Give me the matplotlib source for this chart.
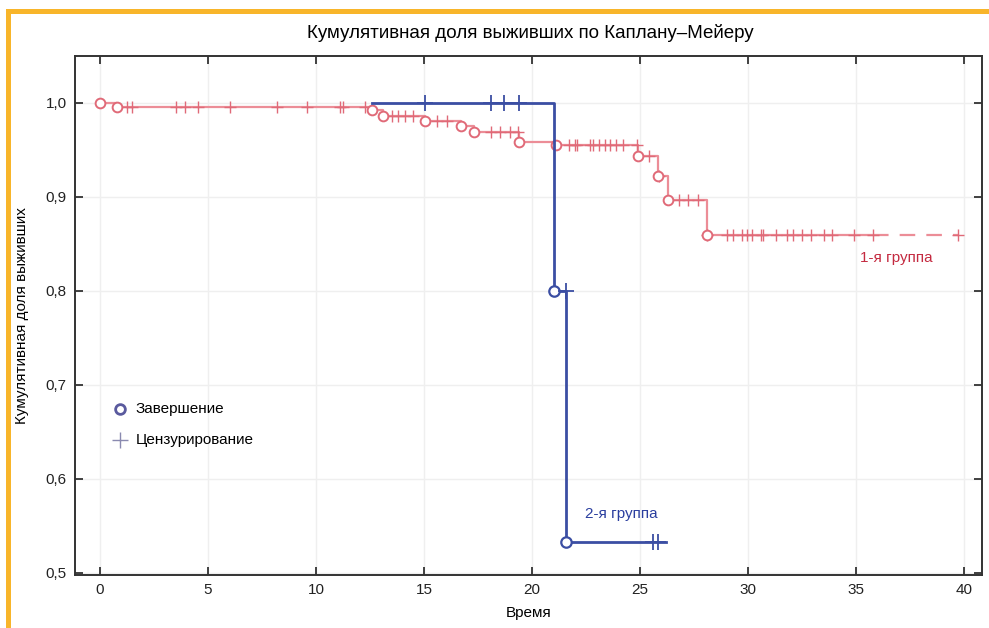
import numpy as np
import matplotlib
matplotlib.use("Agg")
import matplotlib.pyplot as plt
from matplotlib.patches import Rectangle

plt.rcParams['font.family'] = ['Liberation Sans Narrow', 'DejaVu Sans Condensed', 'Liberation Sans', 'DejaVu Sans']

# ---------------- data ----------------
g1_event_t = [0.0, 0.8, 12.6, 13.1, 15.05, 16.7, 17.3, 19.4, 21.1, 24.9, 25.85, 26.3, 28.1]
g1_event_s = [1.0, 0.995, 0.992, 0.986, 0.981, 0.975, 0.969, 0.958, 0.955, 0.943, 0.922, 0.897, 0.859]
g1_cens_t = [1.25, 1.48, 3.52, 3.94, 4.54, 6.02, 8.19, 9.58, 11.1, 11.25, 12.27,
             13.5, 13.8, 14.1, 14.5, 15.6, 16.06, 18.1, 18.5, 19.0, 19.35,
             21.7, 22.0, 22.1, 22.7, 22.8, 23.1, 23.4, 23.6, 23.9, 24.2, 24.85,
             25.4, 25.9, 26.8, 27.2, 27.7, 28.1,
             29.03, 29.3, 29.7, 29.95, 30.2, 30.6, 30.7, 31.3, 31.8, 32.1, 32.5,
             32.9, 33.5, 33.9, 34.9, 35.8, 39.7]
g1_dash_from = 35.8

g2_start_t = 12.6
g2_event_t = [21.0, 21.55]
g2_event_s = [0.8, 0.533]
g2_cens_t = [15.05, 18.1, 18.7, 19.4, 21.55, 25.6, 25.85]

xticks = [0, 5, 10, 15, 20, 25, 30, 35, 40]
yticks = [0.5, 0.6, 0.7, 0.8, 0.9, 1.0]
ytick_labels = ['0,5', '0,6', '0,7', '0,8', '0,9', '1,0']

title = 'Кумулятивная доля выживших по Каплану–Мейеру'
xlabel = 'Время'
ylabel = 'Кумулятивная доля выживших'
legend_labels = ['Завершение', 'Цензурирование']
group_labels = ['1-я группа', '2-я группа']

# ---------------- style ----------------
RED = '#ec8d97'
RED_M = '#e06a78'
RED_TXT = '#c42a40'
BLUE = '#3b4ea3'
BLUE_TXT = '#2b3f9f'
ORANGE = '#f8b52a'


def surv_at(t, et, es):
    idx = np.searchsorted(np.asarray(et), t, side='right') - 1
    return np.asarray(es)[np.clip(idx, 0, None)]


fig = plt.figure(figsize=(9.89, 6.28), dpi=100)
ax = fig.add_axes([75 / 989, 1 - 575 / 628, 907 / 989, 519 / 628])

# grid
for x in xticks:
    ax.axvline(x, color='#efefef', lw=1.0, zorder=0)
for y in yticks:
    ax.axhline(y, color='#efefef', lw=1.0, zorder=0)

# ---- group 1 ----
t1_end = max(g1_cens_t)
tt = np.array(list(g1_event_t) + [t1_end])
ss = np.array(list(g1_event_s) + [g1_event_s[-1]])
mask = tt <= g1_dash_from
ts = np.append(tt[mask], g1_dash_from)
ssol = np.append(ss[mask], ss[mask][-1])
ax.step(ts, ssol, where='post', color=RED, lw=1.6, zorder=3)
ax.plot([g1_dash_from, t1_end], [g1_event_s[-1]] * 2, color=RED, lw=1.6,
        dashes=(7, 5), zorder=3)
ax.plot(g1_event_t, g1_event_s, 'o', ms=7, mfc='white', mec=RED_M, mew=1.4, zorder=5)
ax.plot(g1_cens_t, surv_at(g1_cens_t, g1_event_t, g1_event_s), '+', ms=9,
        mew=1.0, color=RED_M, zorder=4)

# ---- group 2 ----
t2 = [g2_start_t] + list(g2_event_t) + [max(g2_cens_t) + 0.35]
s2 = [1.0] + list(g2_event_s) + [g2_event_s[-1]]
ax.step(t2, s2, where='post', color=BLUE, lw=2.0, zorder=6)
ax.plot(g2_event_t, g2_event_s, 'o', ms=7.5, mfc='white', mec=BLUE, mew=1.6, zorder=7)
ev2_t = [g2_start_t] + list(g2_event_t)
ev2_s = [1.0] + list(g2_event_s)
c2s = surv_at(np.array(g2_cens_t) - 1e-6, ev2_t, ev2_s)
ax.plot(g2_cens_t, c2s, '+', ms=11, mew=1.3, color=BLUE, zorder=7)

# group labels
ax.text(35.2, 0.835, group_labels[0], color=RED_TXT, fontsize=11, va='center', ha='left')
ax.text(22.45, 0.563, group_labels[1], color=BLUE_TXT, fontsize=11, va='center', ha='left')

# legend (manual, axes coords)
lx = (120 - 75) / 907
ax.plot([lx], [1 - (409 - 56) / 519], 'o', ms=7, mfc='white', mec='#5a5a9e', mew=2.0,
        transform=ax.transAxes, clip_on=False)
ax.plot([lx], [1 - (440 - 56) / 519], '+', ms=11, mew=1.0, color='#8a8ab0',
        transform=ax.transAxes, clip_on=False)
ax.text((136 - 75) / 907, 1 - (409 - 56) / 519, legend_labels[0], fontsize=11,
        va='center', ha='left', transform=ax.transAxes)
ax.text((136 - 75) / 907, 1 - (440 - 56) / 519, legend_labels[1], fontsize=11,
        va='center', ha='left', transform=ax.transAxes)

# axes
ax.set_xlim(-1.157, 40.83)
ax.set_ylim(0.4977, 1.0497)
ax.set_xticks(xticks)
ax.set_xticklabels([str(x) for x in xticks])
ax.set_yticks(yticks)
ax.set_yticklabels(ytick_labels)
ax.tick_params(direction='in', length=6, width=1.2, top=True, right=True,
               labelsize=11, colors='#222222', pad=6)
for sp in ax.spines.values():
    sp.set_linewidth(1.4)
    sp.set_color('#333333')
ax.set_xlabel(xlabel, fontsize=11, labelpad=6)
ax.set_ylabel(ylabel, fontsize=11, labelpad=12)
fig.text(530 / 989, 1 - 33 / 628, title, fontsize=13.5, ha='center', va='center')

# orange frame
fig.add_artist(Rectangle((6 / 989, 0), 4.5 / 989, 1 - 9 / 628, transform=fig.transFigure,
                         color=ORANGE, lw=0))
fig.add_artist(Rectangle((6 / 989, 1 - 13.5 / 628), 1, 4.5 / 628, transform=fig.transFigure,
                         color=ORANGE, lw=0))

fig.savefig('out.png', dpi=100)
